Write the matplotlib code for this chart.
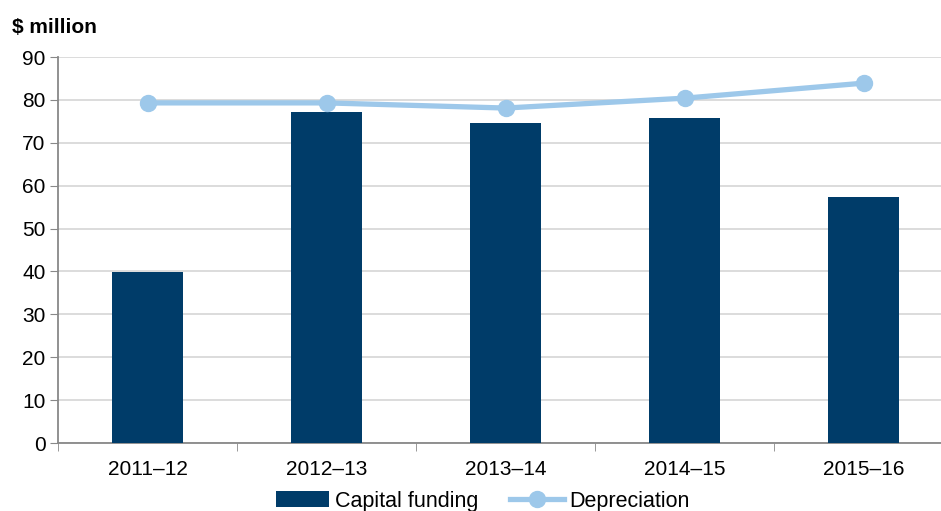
import matplotlib.pyplot as plt
import numpy as np

plt.rcParams['font.family'] = ['Liberation Sans', 'DejaVu Sans']

years = ['2011–12', '2012–13', '2013–14', '2014–15', '2015–16']
capital_funding = [39.9, 77.2, 74.6, 75.8, 57.4]
depreciation = [79.3, 79.3, 78.1, 80.4, 83.9]

bar_color = '#003C69'
line_color = '#9DC8EA'

fig = plt.figure(figsize=(9.41, 5.11), dpi=100)
ax = fig.add_axes([58 / 941, 68 / 511, 883 / 941, 386 / 511])

x = np.arange(len(years))
bars = ax.bar(x, capital_funding, width=0.40, color=bar_color, label='Capital funding', zorder=3)
line, = ax.plot(x, depreciation, color=line_color, lw=3.8, marker='o', ms=11.5,
                label='Depreciation', zorder=4)

ax.set_yticks(range(0, 91, 10))
ax.set_xticks(x)
ax.set_xticklabels(years)
ax.set_xticks(np.arange(-0.5, 5, 1), minor=True)
ax.set_ylim(0, 90)
ax.set_xlim(-0.5, -0.5 + 883 / 179)
ax.tick_params(axis='x', which='major', length=0, pad=12, labelsize=15)
ax.tick_params(axis='x', which='minor', length=6, color='#888888')
ax.tick_params(axis='y', length=6, color='#888888', labelsize=15, pad=3)

ax.grid(axis='y', color='#D9D9D9', lw=1.3, zorder=0)
for s in ['top', 'right']:
    ax.spines[s].set_visible(False)
for s in ['left', 'bottom']:
    ax.spines[s].set_color('#888888')
    ax.spines[s].set_linewidth(1.3)

fig.text(12 / 941, 1 - 27 / 511, '$ million', fontsize=15, fontweight='bold', va='center')

fig.legend([bars, line], ['Capital funding', 'Depreciation'], loc='center',
           bbox_to_anchor=(0.513, 1 - 501 / 511), ncol=2, frameon=False,
           fontsize=15.5, handlelength=2.5, columnspacing=1.5, handletextpad=0.25,
           borderpad=0)

fig.savefig('out.png', dpi=100)
